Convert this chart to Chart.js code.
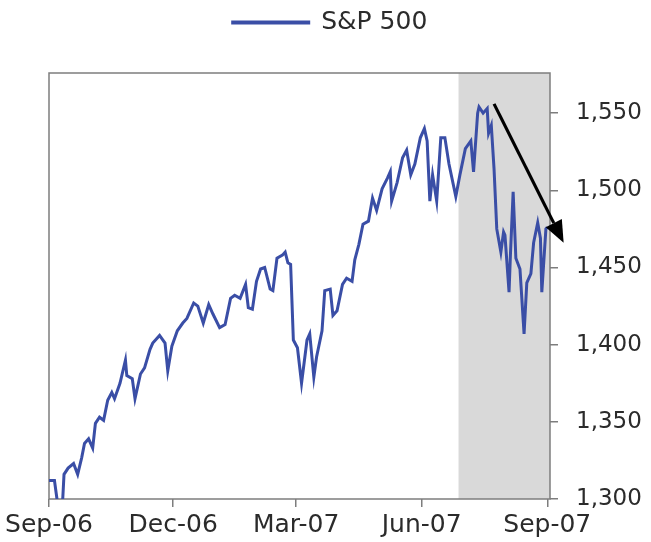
<!DOCTYPE html>
<html>
<head>
<meta charset="utf-8">
<script src="https://cdn.jsdelivr.net/npm/chart.js@4/dist/chart.umd.min.js"></script>
<style>
  html, body { margin: 0; padding: 0; background: #fff; }
  #wrap { width: 651px; height: 542px; }
</style>
</head>
<body>
<div id="wrap"><canvas id="sp-chart"></canvas></div>
<script>
// days since 1 Sep 2006
const days = [0, 4, 6, 10, 11, 14, 18, 21, 24, 26, 29, 32, 34, 37, 40, 43, 46, 48, 52, 56, 57, 61, 63, 67, 70, 74, 76,
    81, 85, 87, 90, 94, 98, 101, 106, 109, 113, 117, 120, 125, 129, 133, 136, 140, 144, 146, 149, 152, 155,
    158, 162, 164, 167, 171, 173, 175, 177, 179, 182, 185, 189, 191, 194, 196, 200, 202, 206, 208, 211, 215,
    218, 222, 224, 227, 230, 234, 237, 240, 244, 248, 250, 251, 255, 259, 262, 265, 268, 272, 275, 277, 279,
    281, 284, 287, 290, 293, 298, 301, 305, 309, 311, 314, 315, 318, 321, 322, 324, 326, 328, 331, 333, 334,
    337, 338, 340, 342, 345, 348, 350, 353, 355, 358, 360, 361, 364, 365];
const sp500 = [1312, 1312, 1299, 1299, 1316, 1320, 1323, 1316, 1327, 1336, 1339, 1333, 1349, 1353, 1351, 1364, 1369, 1365, 1375, 1390, 1380, 1378, 1365, 1381, 1385, 1397, 1401,
    1406, 1401, 1383, 1399, 1409, 1414, 1417, 1427, 1425, 1414, 1426, 1420, 1411, 1413, 1430, 1432, 1430, 1439, 1424, 1423, 1441, 1449,
    1450, 1436, 1435, 1456, 1458, 1460, 1453, 1452, 1403, 1398, 1375, 1403, 1407, 1379, 1392, 1409, 1435, 1436, 1419, 1422, 1439,
    1443, 1441, 1455, 1465, 1478, 1480, 1495, 1487, 1501, 1508, 1512, 1493, 1505, 1521, 1526, 1510, 1517, 1534, 1540, 1532, 1493,
    1510, 1493, 1534, 1534, 1517, 1496, 1510, 1527, 1532, 1512, 1550, 1554, 1550, 1553, 1537, 1542, 1514, 1475, 1460, 1473, 1471,
    1434, 1458, 1499, 1456, 1449, 1407, 1440, 1446, 1466, 1479, 1469, 1434, 1475, 1476];

const tickDays = [0, 91, 181, 273, 365];
const tickLabels = ['Sep-06', 'Dec-06', 'Mar-07', 'Jun-07', 'Sep-07'];
const yTicks = [1300, 1350, 1400, 1450, 1500, 1550];
const shadeFrom = 300;
const arrowFrom = [326, 1556];
const arrowTo = [377, 1466];

const lineBlue = '#3a4ea6';
const textCol = '#2b2b2b';
const frameCol = '#7d7d7d';

// grey band + frame behind the line, arrow on top
const extras = {
    id: 'extras',
    beforeLayout(chart) {
        const lg = chart.legend;
        if (lg && !lg._patched) {
            const fit = lg.fit;
            lg.fit = function () { fit.call(this); this.height += 28; };
            lg._patched = true;
        }
    },
    afterLayout(chart) {
        // nudge legend toward canvas centre
        chart.legend.left -= 20;
        chart.legend.right -= 20;
    },
    beforeDatasetsDraw(chart) {
        const { ctx, chartArea: a, scales: { x } } = chart;
        const x0 = x.getPixelForValue(shadeFrom);
        ctx.save();
        ctx.fillStyle = '#d9d9d9';
        ctx.fillRect(x0, a.top, a.right - x0, a.bottom - a.top);
        ctx.strokeStyle = frameCol;
        ctx.lineWidth = 1.5;
        ctx.strokeRect(a.left, a.top, a.right - a.left, a.bottom - a.top);
        ctx.restore();
    },
    afterDatasetsDraw(chart) {
        const { ctx, scales: { x, y } } = chart;
        const x1 = x.getPixelForValue(arrowFrom[0]), y1 = y.getPixelForValue(arrowFrom[1]);
        const x2 = x.getPixelForValue(arrowTo[0]), y2 = y.getPixelForValue(arrowTo[1]);
        const ang = Math.atan2(y2 - y1, x2 - x1);
        const head = 22, half = 9;
        const bx = x2 - head * Math.cos(ang), by = y2 - head * Math.sin(ang);
        ctx.save();
        ctx.strokeStyle = '#000';
        ctx.fillStyle = '#000';
        ctx.lineWidth = 3.2;
        ctx.beginPath();
        ctx.moveTo(x1, y1);
        ctx.lineTo(bx, by);
        ctx.stroke();
        ctx.beginPath();
        ctx.moveTo(x2, y2);
        ctx.lineTo(bx + half * Math.sin(ang), by - half * Math.cos(ang));
        ctx.lineTo(bx - half * Math.sin(ang), by + half * Math.cos(ang));
        ctx.closePath();
        ctx.fill();
        ctx.restore();
    }
};

const ctx = document.getElementById('sp-chart');

new Chart(ctx, {
    type: 'line',
    data: {
        datasets: [{
            label: 'S&P 500',
            data: days.map((d, i) => ({ x: d, y: sp500[i] })),
            borderColor: lineBlue,
            backgroundColor: lineBlue,
            borderWidth: 3,
            pointRadius: 0,
            tension: 0,
            fill: false
        }]
    },
    options: {
        responsive: true,
        maintainAspectRatio: false,
        animation: false,
        layout: {
            padding: { left: 49, right: 0, top: 0, bottom: 0 }
        },
        scales: {
            x: {
                type: 'linear',
                min: 0,
                max: 367,
                afterBuildTicks: (axis) => { axis.ticks = tickDays.map(v => ({ value: v })); },
                afterFit: (axis) => { axis.height = 43; },
                ticks: {
                    autoSkip: false,
                    maxRotation: 0,
                    padding: 3,
                    color: textCol,
                    font: { family: 'DejaVu Sans', size: 25 },
                    callback: (v) => tickLabels[tickDays.indexOf(v)]
                },
                grid: { drawOnChartArea: false, tickLength: 8, color: frameCol, lineWidth: 1.5 },
                border: { display: false }
            },
            y: {
                position: 'right',
                min: 1300,
                max: 1576,
                afterBuildTicks: (axis) => { axis.ticks = yTicks.map(v => ({ value: v })); },
                afterFit: (axis) => { axis.width = 101; },
                ticks: {
                    padding: 18,
                    color: textCol,
                    font: { family: 'DejaVu Sans', size: 23 },
                    callback: (v) => v.toLocaleString('en-US')
                },
                grid: { drawOnChartArea: false, tickLength: 8, color: frameCol, lineWidth: 1.5 },
                border: { display: false }
            }
        },
        plugins: {
            legend: {
                position: 'top',
                labels: {
                    color: textCol,
                    font: { family: 'DejaVu Sans', size: 25 },
                    boxWidth: 76,
                    boxHeight: 1,
                    padding: 10
                }
            },
            tooltip: { enabled: false }
        }
    },
    plugins: [extras]
});
</script>
</body>
</html>
